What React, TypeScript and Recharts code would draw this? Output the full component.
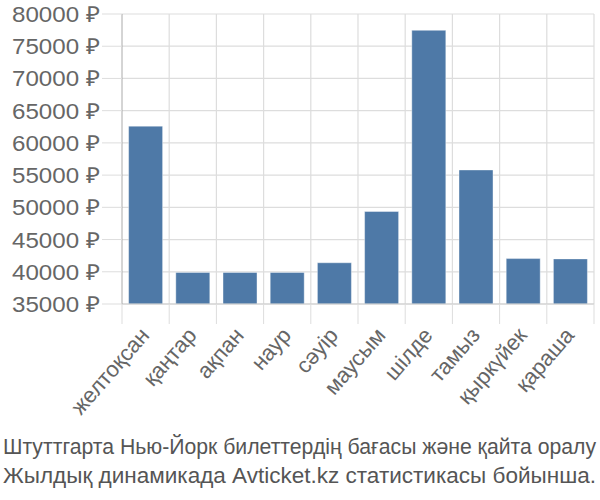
import { BarChart, Bar, XAxis, YAxis, CartesianGrid } from "recharts";

const months = ["желтоқсан", "қаңтар", "ақпан", "наур", "сәуір", "маусым", "шілде", "тамыз", "қыркүйек", "қараша"];
const prices = [62600, 39900, 39900, 39900, 41400, 49350, 77470, 55800, 42050, 42000];
const yTicks = [35000, 40000, 45000, 50000, 55000, 60000, 65000, 70000, 75000, 80000];
const titleLines = [
  "Штуттгарта Нью-Йорк билеттердің бағасы және қайта оралу",
  "Жылдық динамикада Avticket.kz статистикасы бойынша.",
];

const data = months.map((m, i) => ({ month: m, price: prices[i] }));

const W = 600;
const H = 420;
const LEFT = 122;
const RIGHT = 6;
const BAND = (W - LEFT - RIGHT) / months.length;
const FONT = "'Liberation Sans', Arial, sans-serif";

function MonthTick(props: any) {
  const { x, y, payload, index } = props;
  const tx = x + 5;
  const ty = y + 32;
  return (
    <g>
      <line x1={x - BAND / 2} x2={x - BAND / 2} y1={y} y2={y + 20} stroke="#dddddd" />
      {index === months.length - 1 && (
        <line x1={x + BAND / 2} x2={x + BAND / 2} y1={y} y2={y + 20} stroke="#dddddd" />
      )}
      <text
        x={tx}
        y={ty}
        transform={`rotate(-49 ${tx} ${ty})`}
        textAnchor="end"
        fontSize={22}
        fill="#666"
        fontFamily={FONT}
      >
        {payload.value}
      </text>
    </g>
  );
}

function PriceTick(props: any) {
  const { x, y, payload } = props;
  return (
    <text
      x={x}
      y={y}
      dy={8}
      textAnchor="end"
      fontSize={22}
      fill="#666"
      fontFamily={FONT}
      textLength={88}
      lengthAdjust="spacingAndGlyphs"
    >
      {`${payload.value} ₽`}
    </text>
  );
}

export default function App() {
  return (
    <div style={{ position: "absolute", left: 0, top: 0, width: W, height: 500, background: "#fff" }}>
      <BarChart width={W} height={H} data={data} margin={{ top: 14, right: RIGHT, left: 0, bottom: 0 }} barCategoryGap="14%">
        <CartesianGrid
          stroke="#dddddd"
          strokeWidth={1.2}
          verticalCoordinatesGenerator={({ offset }: any) =>
            months.map((_, i) => offset.left + (i + 1) * (offset.width / months.length))
          }
        />
        <XAxis
          dataKey="month"
          interval={0}
          height={116}
          tickSize={0}
          tickMargin={0}
          tickLine={false}
          axisLine={{ stroke: "#cccccc" }}
          tick={<MonthTick />}
        />
        <YAxis
          domain={[35000, 80000]}
          ticks={yTicks}
          width={LEFT}
          tickSize={20}
          tickMargin={2}
          interval={0}
          allowDataOverflow
          tickLine={{ stroke: "#dddddd" }}
          axisLine={{ stroke: "#aaaaaa" }}
          tick={<PriceTick />}
        />
        <Bar dataKey="price" fill="#4e79a7" stroke="#ffffff" strokeOpacity={0.4} isAnimationActive={false} />
      </BarChart>
      <svg width={W} height={80} style={{ position: "absolute", left: 0, top: 420 }}>
        {titleLines.map((t, i) => (
          <text
            key={t}
            x={3}
            y={34 + i * 29}
            fontSize={22}
            fill="#555"
            fontFamily={FONT}
            textLength={593}
            lengthAdjust="spacingAndGlyphs"
          >
            {t}
          </text>
        ))}
      </svg>
    </div>
  );
}
